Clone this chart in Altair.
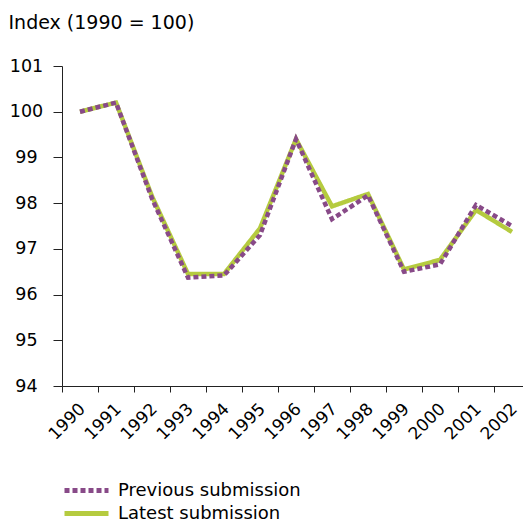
import altair as alt
import pandas as pd

years = [str(y) for y in range(1990, 2003)]
latest = [100.0, 100.2, 98.15, 96.45, 96.45, 97.45, 99.4, 97.93, 98.2, 96.55, 96.76, 97.85, 97.37]
previous = [100.0, 100.2, 98.1, 96.37, 96.42, 97.3, 99.4, 97.65, 98.17, 96.5, 96.66, 97.96, 97.5]
series_names = ["Previous submission", "Latest submission"]
series_colors = ["#884a88", "#b5cb3f"]

rows = []
for y, v in zip(years, latest):
    rows.append({"year": y, "value": v, "series": "Latest submission"})
for y, v in zip(years, previous):
    rows.append({"year": y, "value": v, "series": "Previous submission"})
df = pd.DataFrame(rows)

FONT = "DejaVu Sans"

chart = alt.Chart(df).mark_line(strokeWidth=4.5, strokeCap="butt", strokeJoin="miter").encode(
    x=alt.X("year:O", sort=years,
            scale=alt.Scale(type="point", padding=0.5),
            axis=alt.Axis(title=None, labelAngle=-45, labelAlign="right", labelBaseline="middle",
                          tickOffset=-18, labelOffset=20, tickSize=6, labelPadding=14,
                          labelFontSize=17, labelFont=FONT, labelColor="#000",
                          domainColor="#222", tickColor="#222", grid=False)),
    y=alt.Y("value:Q", scale=alt.Scale(domain=[94, 101], nice=False, zero=False),
            axis=alt.Axis(values=[94, 95, 96, 97, 98, 99, 100, 101], title="Index (1990 = 100)",
                          titleAngle=0, titleAlign="left", titleBaseline="alphabetic",
                          titleX=-54, titleY=-38, titleFont=FONT, titleFontSize=19,
                          titleFontWeight="normal", titleColor="#000",
                          labelAlign="center", labelPadding=27, tickSize=9,
                          labelFontSize=17.5, labelFont=FONT, labelColor="#000",
                          domainColor="#222", tickColor="#222", grid=False)),
    color=alt.Color("series:N", scale=alt.Scale(domain=series_names, range=series_colors),
                    legend=alt.Legend(title=None, orient="none", legendX=12, legendY=412,
                                      symbolType="M-2.2,0H2.2", symbolSize=400, symbolStrokeWidth=5,
                                      labelFontSize=18, labelFont=FONT, labelColor="#000",
                                      labelOffset=19, rowPadding=0, labelLimit=400)),
    strokeDash=alt.StrokeDash("series:N", scale=alt.Scale(domain=series_names, range=[[5, 3], [1, 0]]),
                              legend=None),
    order=alt.Order("series:N", sort="ascending"),
).properties(
    width=468, height=320,
    autosize=alt.AutoSizeParams(type="none"),
    padding={"left": 54, "top": 58, "right": -7, "bottom": 136},
).configure_view(stroke=None)

chart.save("out.html", embed_options={"renderer": "svg", "actions": False})
